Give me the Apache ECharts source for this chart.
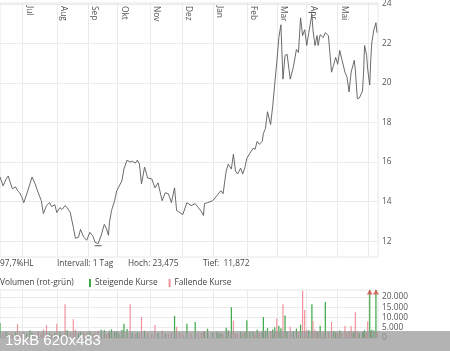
<!DOCTYPE html>
<html><head><meta charset="utf-8">
<script src="https://cdn.jsdelivr.net/npm/echarts@6/dist/echarts.min.js"></script>
<style>html,body{margin:0;padding:0;background:#fff}#c{width:450px;height:351px}</style>
</head><body><div id="c"></div>
<script>
// Month gridlines (day offsets from chart start) and their labels
const monthTicks = [22, 55, 85, 114, 145, 176, 206, 239, 268, 297, 327, 357];
const monthLabels = ['Jul', 'Aug', 'Sep', 'Okt', 'Nov', 'Dez', 'Jan', 'Feb', 'Mar', 'Apr', 'Mai', 'Jun'];
const labelledMonths = monthTicks.slice(0, 11);
const priceTicks = [12, 14, 16, 18, 20, 22, 24];
const volumeTicks = [0, 5000, 10000, 15000, 20000];

// Trading days (day offsets) and closing prices
const days = [0,3,6,8,10,12,15,17,19,21,23,26,29,31,34,37,40,42,45,48,50,53,55,58,60,63,65,68,71,73,76,78,81,84,87,90,92,95,98,101,103,105,106,108,111,113,115,118,120,123,126,128,131,133,135,137,140,143,147,150,153,157,160,163,166,169,171,174,177,181,185,189,192,195,197,198,201,206,210,212,214,216,219,221,224,226,228,230,233,235,237,239,242,245,247,249,251,254,255,257,259,262,264,266,268,270,272,274,276,278,281,284,287,289,291,293,295,297,299,302,303,305,307,308,310,313,315,318,321,323,325,327,329,331,334,336,338,340,342,343,344,346,348,351,352,353,355,356,358,359,360,362,364,365];
const prices = [15.25,14.8,15.15,15.3,14.95,14.65,14.75,14.55,14.45,14.25,13.95,14.4,14.9,15.25,14.9,14.45,14.05,13.4,13.8,13.95,13.75,13.85,13.45,13.7,13.6,13.8,13.7,13.45,12.7,12.15,12.2,12.6,12.2,12.05,12.45,12.25,11.95,11.872,12.3,12.85,12.65,12.3,12.95,13.55,14.05,14.55,14.75,15.05,15.65,16.1,16.0,16.05,15.95,16.1,15.9,14.9,15.75,15.2,15.15,14.7,14.95,14.05,14.45,14.4,13.95,14.7,13.55,13.45,13.35,13.95,13.8,13.9,13.7,13.5,13.3,13.9,13.95,14.05,14.3,14.45,14.55,14.4,15.55,15.9,15.65,16.4,15.55,15.4,15.7,15.4,15.7,16.2,16.45,16.7,16.65,17.05,16.9,17.05,17.45,17.7,18.55,17.9,18.8,19.95,21.05,22.3,22.95,20.2,21.4,21.45,20.2,20.8,21.7,21.55,23.3,22.4,22.7,21.9,22.55,23.475,22.7,21.9,22.4,21.9,22.45,22.3,22.55,22.4,20.55,20.9,21.3,20.95,21.65,21.2,20.55,20.3,19.55,20.55,20.95,21.15,20.7,19.2,19.25,19.6,20.5,21.9,21.4,20.7,19.9,21.2,22.05,22.7,23.05,22.55];
// Volume per trading day and direction (1 = rising, 0 = falling)
const volumes = [7300,2500,3000,1800,2200,1500,2800,6800,2000,1600,3200,2400,3600,2600,1900,3100,2200,4200,6300,2400,1800,2600,7000,3000,2000,16500,3800,2500,9200,4000,2200,3000,2500,2800,3300,2000,2600,3500,4000,3800,2000,2400,3600,4200,3000,3400,2200,3900,7000,4400,16500,2500,2000,2800,2200,10200,3500,2600,2000,6300,2400,3700,2300,1900,2800,10700,5500,2500,2100,7000,2200,7800,2600,2400,3000,3200,4500,2600,3000,2200,2400,2000,5000,3800,15000,8500,2400,2000,3000,2400,2800,8700,3000,3300,2200,4000,2600,3000,10200,3600,4800,3500,4200,5200,9500,6000,4800,16500,11000,3000,5500,3400,4600,2800,6500,23000,13600,4200,3800,16500,8300,4000,3000,3200,6000,2600,17500,3000,7800,3400,2800,2500,3600,2400,6000,2800,3500,5800,2600,3000,12600,3300,2400,2800,3000,3800,2400,8000,30000,3400,4000,3600,30000,3000];
const volUp = [1,0,1,1,0,0,1,0,0,0,0,1,1,1,0,0,0,0,0,1,0,1,0,1,0,0,1,0,0,0,1,1,0,0,1,0,0,0,1,1,0,0,1,1,1,1,1,1,1,1,0,1,0,1,0,0,1,0,0,0,1,0,1,0,0,1,0,0,0,1,0,1,0,0,0,1,1,1,1,1,1,0,1,1,1,0,0,0,1,0,1,1,1,1,0,1,0,1,1,1,1,0,1,1,0,1,1,0,1,1,0,1,1,0,1,0,0,0,1,1,0,0,1,0,1,0,1,0,0,1,1,0,1,0,0,0,0,0,1,1,0,0,1,1,1,1,0,0,1,1,1,1,1,0];

const volMax = 23400;
const FONT = '"Open Sans", sans-serif';
const LBL = '#555';
const GRIDC = '#ebebeb';

const priceData = days.map((d, i) => [d, prices[i]]);
const upData = days.map((d, i) => volUp[i] ? [d, volumes[i]] : [d, null]);
const downData = days.map((d, i) => volUp[i] ? [d, null] : [d, volumes[i]]);
const clipped = days.filter((d, i) => volumes[i] > volMax).map(d => [d, volMax]);

const xCommon = (idx, withLabels) => ({
  type: 'value', gridIndex: idx, min: 0, max: 366,
  position: 'top',
  axisLine: { show: false },
  axisTick: { show: false, customValues: monthTicks },
  splitLine: { show: true, lineStyle: { color: GRIDC, width: 1 } },
  axisLabel: withLabels ? {
    show: true, inside: true, rotate: 90, customValues: labelledMonths,
    formatter: v => monthLabels[monthTicks.indexOf(v)],
    fontSize: 8.3, fontFamily: FONT, color: LBL, margin: 3,
    verticalAlign: 'bottom', padding: [0, 0, 3, 0]
  } : { show: false }
});

const option = {
  animation: false,
  backgroundColor: '#fff',
  grid: [
    { left: 0, right: 72, top: 0, height: 257, show: true, borderColor: '#e6e6e6', borderWidth: 1 },
    { left: 0, right: 72, top: 290, height: 48, show: true, borderColor: '#e6e6e6', borderWidth: 1 }
  ],
  xAxis: [xCommon(0, true), xCommon(1, false)],
  yAxis: [
    {
      type: 'value', gridIndex: 0, position: 'right', min: 11.2, max: 24.05,
      axisLine: { show: false },
      axisTick: { show: false, customValues: priceTicks },
      splitLine: { show: true, lineStyle: { color: GRIDC } },
      axisLabel: { customValues: priceTicks, fontSize: 8.3, fontFamily: FONT, color: LBL, margin: 4 }
    },
    {
      type: 'value', gridIndex: 1, position: 'right', min: 0, max: volMax,
      axisLine: { show: false },
      axisTick: { show: false, customValues: volumeTicks },
      splitLine: { show: true, lineStyle: { color: GRIDC } },
      axisLabel: {
        customValues: volumeTicks, fontSize: 8.3, fontFamily: FONT, color: LBL, margin: 4,
        formatter: v => v === 0 ? '0' : (v / 1000) + '.000'
      }
    }
  ],
  legend: {
    data: ['Steigende Kurse', 'Fallende Kurse'],
    left: 89, top: 279, padding: 0, itemGap: 11,
    icon: 'rect', itemWidth: 2, itemHeight: 8,
    textStyle: { fontSize: 8.3, fontFamily: FONT, color: '#444', padding: [0, 0, 0, -1] }
  },
  series: [
    {
      name: 'Kurs', type: 'line', xAxisIndex: 0, yAxisIndex: 0, data: priceData,
      showSymbol: false, lineStyle: { color: '#5a5a5a', width: 0.9 }, itemStyle: { color: '#5a5a5a' },
      markPoint: {
        silent: true, label: { show: false }, itemStyle: { color: '#555' },
        data: [
          { type: 'min', symbol: 'rect', symbolSize: [7, 1], symbolOffset: [0, 2] },
          { type: 'max', symbol: 'rect', symbolSize: [7, 1], symbolOffset: [0, -2] }
        ]
      }
    },
    {
      name: 'Steigende Kurse', type: 'bar', xAxisIndex: 1, yAxisIndex: 1, data: upData,
      barWidth: 1.2, barGap: '-100%', itemStyle: { color: '#3aa845' }
    },
    {
      name: 'Fallende Kurse', type: 'bar', xAxisIndex: 1, yAxisIndex: 1, data: downData,
      barWidth: 1.2, barGap: '-100%', itemStyle: { color: '#f0939c' }
    },
    {
      name: 'clip', type: 'scatter', xAxisIndex: 1, yAxisIndex: 1, data: clipped,
      symbol: 'triangle', symbolSize: [6, 5], symbolOffset: [0, 2], itemStyle: { color: '#d9534f' }
    }
  ],
  graphic: [
    { type: 'text', x: 0, y: 264, style: { text: '97,7%HL', font: '8.3px ' + FONT, fill: '#444', verticalAlign: 'middle' } },
    { type: 'text', x: 57, y: 264, style: { text: 'Intervall: 1 Tag', font: '8.3px ' + FONT, fill: '#444', verticalAlign: 'middle' } },
    { type: 'text', x: 128, y: 264, style: { text: 'Hoch: 23,475', font: '8.3px ' + FONT, fill: '#444', verticalAlign: 'middle' } },
    { type: 'text', x: 203, y: 264, style: { text: 'Tief:  11,872', font: '8.3px ' + FONT, fill: '#444', verticalAlign: 'middle' } },
    { type: 'text', x: 0, y: 283, style: { text: 'Volumen (rot-grün)', font: '8.3px ' + FONT, fill: '#444', verticalAlign: 'middle' } },
    { type: 'rect', shape: { x: 0, y: 331, width: 450, height: 20 }, style: { fill: 'rgba(150,150,150,0.72)' }, z: 100 },
    { type: 'text', x: 5, y: 341, z: 101, style: { text: '19kB 620x483', font: '15px "Liberation Sans", sans-serif', fill: '#fff', verticalAlign: 'middle' } }
  ]
};
echarts.init(document.getElementById('c')).setOption(option);
</script></body></html>
